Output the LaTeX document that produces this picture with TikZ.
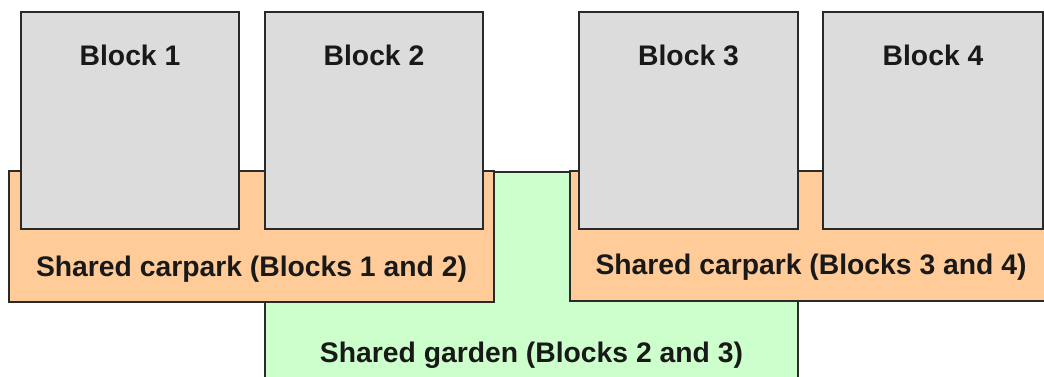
\documentclass[tikz,border=0pt]{standalone}
\usepackage{fontspec}
\setmainfont{Liberation Sans}
\definecolor{blockgray}{HTML}{DCDCDC}
\definecolor{parkorange}{HTML}{FFCC99}
\definecolor{gardengreen}{HTML}{CCFFCC}
\definecolor{edgegray}{HTML}{2A2A2A}
\tikzset{
  area/.style={draw=edgegray, line width=1.8pt},
  blockarea/.style={area, fill=blockgray},
  parkarea/.style={area, fill=parkorange},
  gardenarea/.style={area, fill=gardengreen},
  lbl/.style={font=\fontsize{28.3}{33}\selectfont\bfseries, text=black!90, inner sep=0pt, anchor=base}
}
\begin{document}
\begin{tikzpicture}[x=1pt, y=-1pt]
  \useasboundingbox (0,0) rectangle (1044,376);
  \clip (0,0) rectangle (1044,376);
  % garden lies underneath both car parks
  \draw[gardenarea] (265,172) rectangle (798,390);
  % car parks
  \draw[parkarea] (9,171) rectangle (494,302);
  \draw[parkarea] (570,171) rectangle (1052,301);
  % residential blocks
  \draw[blockarea] (21,12) rectangle (239,229);
  \draw[blockarea] (265,12) rectangle (483,229);
  \draw[blockarea] (579,12) rectangle (798,229);
  \draw[blockarea] (823,12) rectangle (1043,229);
  % labels
  \node[lbl] (b1) at (130,65) {Block 1};
  \node[lbl] (b2) at (374,65) {Block 2};
  \node[lbl] (b3) at (688.5,65) {Block 3};
  \node[lbl] (b4) at (933,65) {Block 4};
  \node[lbl] (p12) at (251.5,276) {Shared carpark (Blocks 1 and 2)};
  \node[lbl] (p34) at (811,274) {Shared carpark (Blocks 3 and 4)};
  \node[lbl] (g23) at (531.5,362) {Shared garden (Blocks 2 and 3)};
\end{tikzpicture}
\end{document}
